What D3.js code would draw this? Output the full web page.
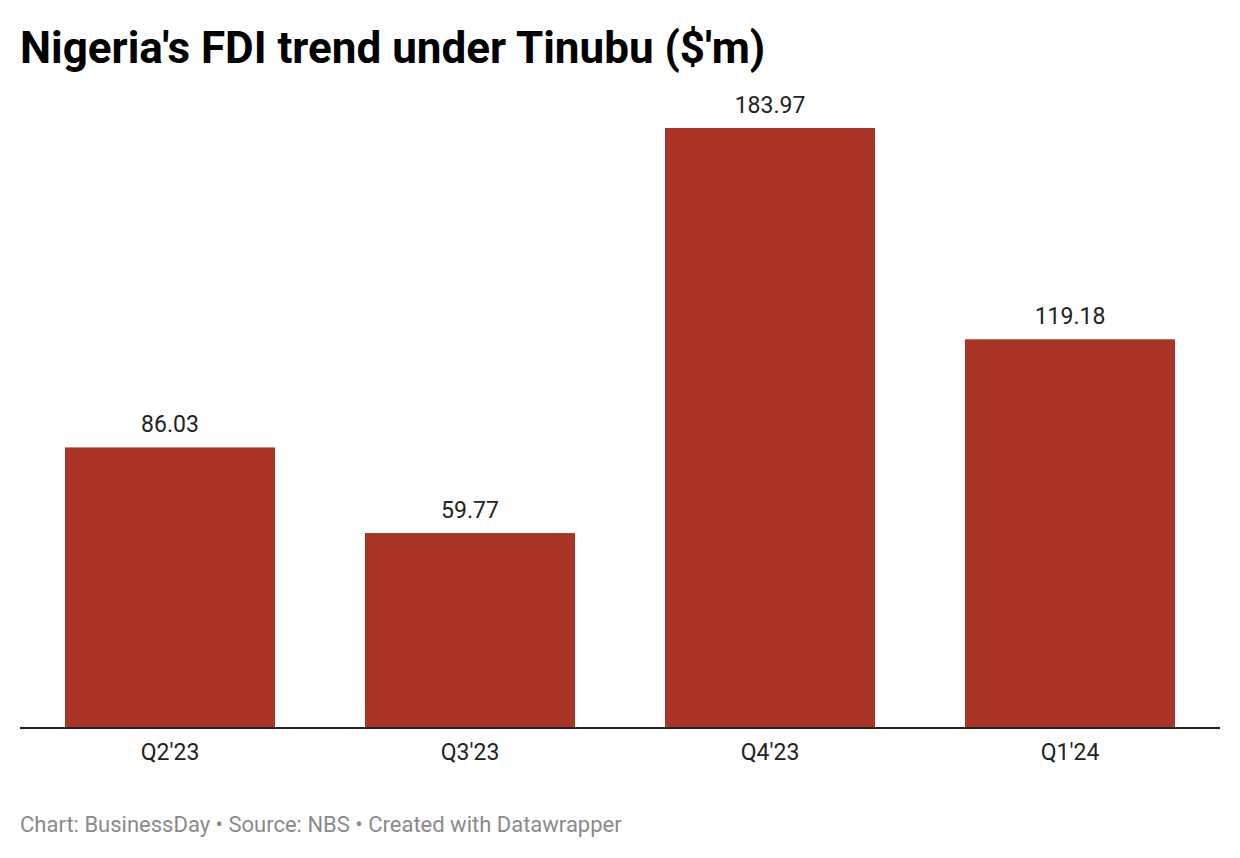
<!DOCTYPE html>
<html>
<head>
<meta charset="utf-8">
<script src="https://cdn.jsdelivr.net/npm/d3@7"></script>
<style>
  body { margin: 0; background: #fff; font-family: Roboto, sans-serif; }
  .chart-title { font-size: 44px; font-weight: 700; fill: #000; }
  .value-label { font-size: 23px; fill: #222; }
  .x-axis text { font-size: 23px; fill: #222; font-family: Roboto, sans-serif; }
  .footer { font-size: 22px; fill: #8a8a8a; }
</style>
</head>
<body>
<div id="chart"></div>
<script>
// data
const quarters = ["Q2'23", "Q3'23", "Q4'23", "Q1'24"];
const fdiValues = [86.03, 59.77, 183.97, 119.18];

const W = 1240, H = 858;
const margin = {top: 128, right: 20, bottom: 130, left: 20};
const baseY = H - margin.bottom;

const svg = d3.select("#chart")
  .append("svg")
    .attr("width", W)
    .attr("height", H);

// scales
const xScale = d3.scaleBand()
  .domain(quarters)
  .range([margin.left, W - margin.right])
  .paddingInner(0.3)
  .paddingOuter(0.15);

const yScale = d3.scaleLinear()
  .domain([0, d3.max(fdiValues)])
  .range([baseY, margin.top]);

const data = quarters.map((q, i) => ({q: q, v: fdiValues[i]}));

// bars
svg.selectAll("rect.bar")
  .data(data)
  .join("rect")
    .attr("class", "bar")
    .attr("x", d => xScale(d.q))
    .attr("y", d => yScale(d.v))
    .attr("width", xScale.bandwidth())
    .attr("height", d => baseY - yScale(d.v))
    .style("fill", "#a93426");

// value labels
svg.selectAll("text.value-label")
  .data(data)
  .join("text")
    .attr("class", "value-label")
    .attr("x", d => xScale(d.q) + xScale.bandwidth() / 2)
    .attr("y", d => yScale(d.v) - 15)
    .attr("text-anchor", "middle")
  .text(d => d.v.toFixed(2));

// x axis
const xAxis = svg.append("g")
  .attr("class", "x-axis")
  .attr("transform", `translate(0, ${baseY})`)
  .call(d3.axisBottom(xScale).tickSize(0).tickPadding(16));
xAxis.select(".domain").remove();
xAxis.selectAll("text").attr("font-size", null).attr("font-family", null);

svg.append("line")
  .attr("x1", margin.left)
  .attr("x2", W - margin.right)
  .attr("y1", baseY)
  .attr("y2", baseY)
  .style("stroke", "#222")
  .style("stroke-width", 2);

// title
svg.append("text")
  .attr("class", "chart-title")
  .attr("x", 20)
  .attr("y", 63)
  .text("Nigeria's FDI trend under Tinubu ($'m)");

// footer
svg.append("text")
  .attr("class", "footer")
  .attr("x", 20)
  .attr("y", 832)
  .text("Chart: BusinessDay • Source: NBS • Created with Datawrapper");
</script>
</body>
</html>
